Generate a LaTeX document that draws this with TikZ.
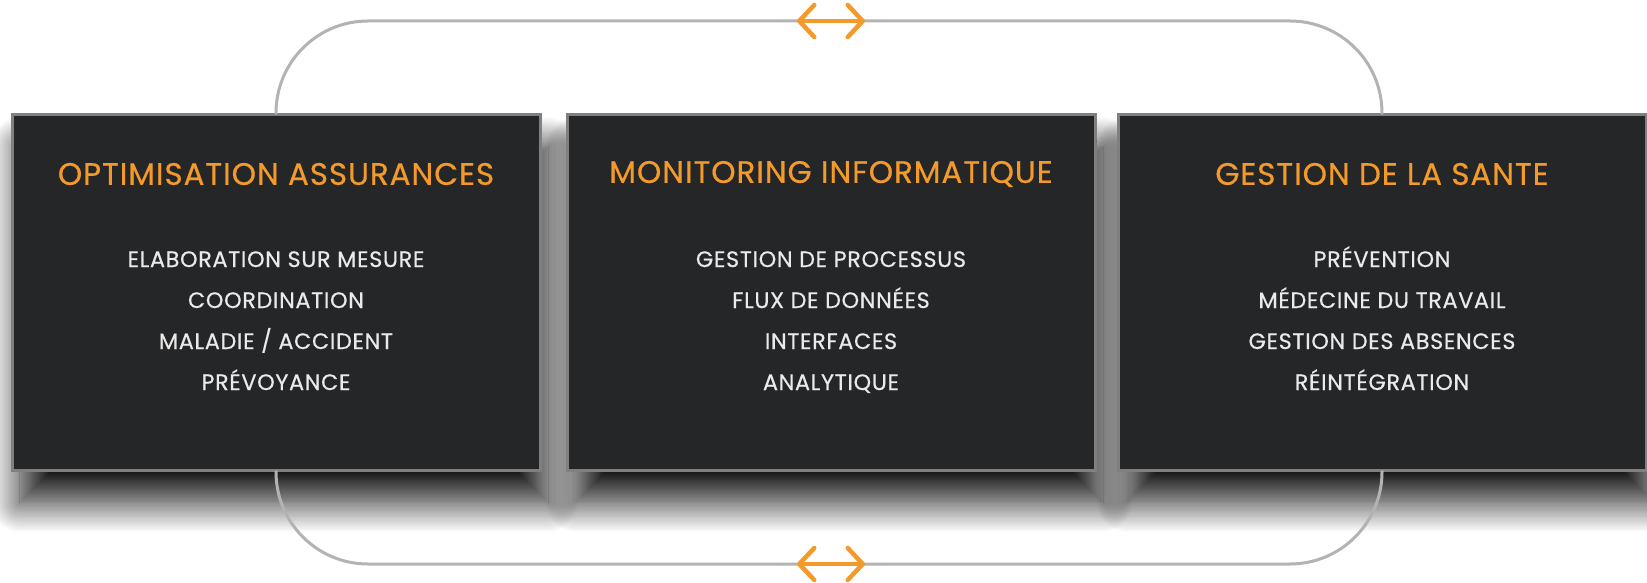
\documentclass[tikz,border=0pt]{standalone}
\usepackage{fontspec}
\setmainfont{Poppins}[FakeBold=0.5]
\newfontfamily\svcwide{Poppins}[LetterSpace=3,FakeBold=0.5]
\usetikzlibrary{arrows.meta,shadows.blur,calc}
\definecolor{svcDark}{HTML}{252628}
\definecolor{svcEdge}{HTML}{808080}
\definecolor{svcOrange}{HTML}{F39A2B}
\definecolor{svcLoop}{HTML}{B3B3B3}
\definecolor{svcText}{HTML}{EAEAEA}
\tikzset{
  svc diagram/.style={x=1pt,y=-1pt,
    every node/.style={inner sep=0pt, outer sep=0pt}},
  svc box/.style={draw=svcEdge, line width=3pt, fill=svcDark,
    minimum width=528pt, minimum height=356pt,
    blur shadow={shadow xshift=8pt, shadow yshift=-32pt,
      shadow blur radius=30pt, shadow blur steps=24, shadow opacity=90}},
  svc head/.style={text=svcOrange, font=\svcwide\fontsize{31}{34}\selectfont},
  svc item/.style={text=svcText, font=\svcwide\fontsize{22.3}{24}\selectfont},
  svc loop/.style={draw=svcLoop, line width=3pt, rounded corners=92pt},
  svc swap/.style={draw=svcOrange, line width=4.5pt, line cap=round,
    {Straight Barb[length=15pt,width=32pt,round]}-{Straight Barb[length=15pt,width=32pt,round]}}
}

\begin{document}
\begin{tikzpicture}[svc diagram]
  \useasboundingbox (0,0) rectangle (1647,583);
  \foreach \boxName/\boxItems/\boxX/\boxHead in {
    opt/{ELABORATION SUR MESURE,COORDINATION,MALADIE / ACCIDENT,PRÉVOYANCE}/276/OPTIMISATION ASSURANCES,
    mon/{GESTION DE PROCESSUS,FLUX DE DONNÉES,INTERFACES,ANALYTIQUE}/831/MONITORING INFORMATIQUE,
    sante/{PRÉVENTION,MÉDECINE DU TRAVAIL,GESTION DES ABSENCES,RÉINTÉGRATION}/1382/GESTION DE LA SANTE
  } {
    \node[svc box] (\boxName) at (\boxX,292.5) {};
    \node[svc head] (\boxName-head) at (\boxX,174) {\boxHead};
    \foreach \itemText [count=\itemNo] in \boxItems {
      \node[svc item, anchor=base] (\boxName-\itemNo)
        at (\boxX,{267+41*(\itemNo-1)}) {\itemText};
    }
  }
  % loops joining the outer boxes
  \coordinate (loopTop) at (829,21);
  \coordinate (loopBot) at (829,564);
  \draw[svc loop] (opt.north) |- (loopTop) -| (sante.north);
  \draw[svc loop] (opt.south) |- (loopBot) -| (sante.south);
  \coordinate (topL) at (797,21);
  \coordinate (topR) at (865,21);
  \coordinate (botL) at (797,564);
  \coordinate (botR) at (865,564);
  \draw[svc swap] (topL) -- (topR);
  \draw[svc swap] (botL) -- (botR);
\end{tikzpicture}
\end{document}
